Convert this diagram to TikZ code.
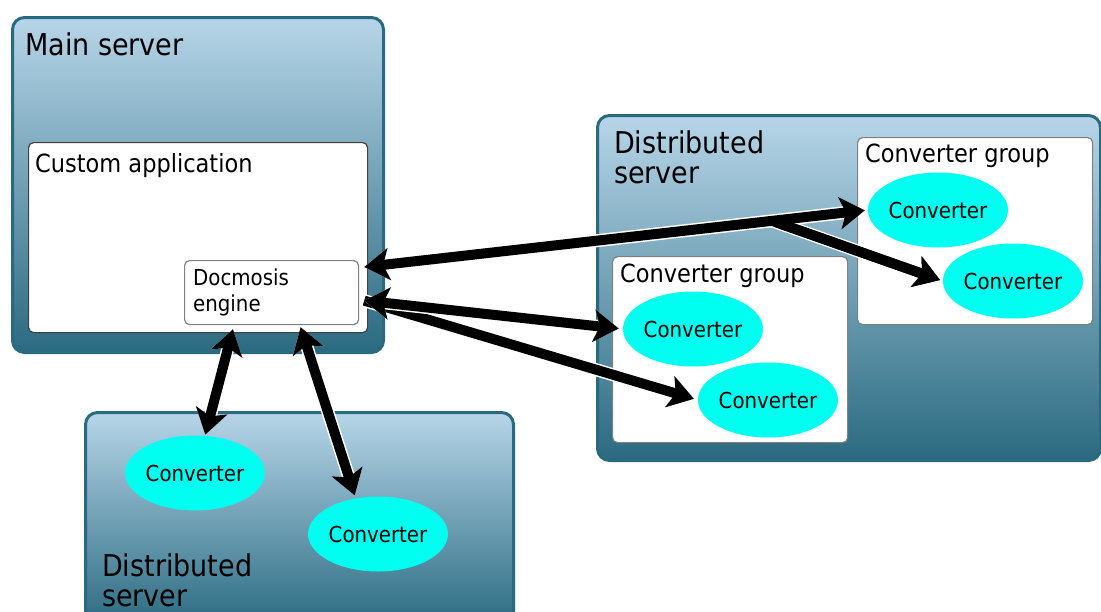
\documentclass[tikz,border=0pt]{standalone}
\usepackage{fontspec}
\setmainfont{DejaVu Sans Condensed}
\usetikzlibrary{arrows.meta,calc,shapes.geometric}
\definecolor{tealdark}{HTML}{2A6A80}
\definecolor{teallight}{HTML}{B7D5E8}
\definecolor{convcyan}{HTML}{00FFF0}

\begin{document}
\begin{tikzpicture}[x=1pt,y=-1pt,
  >={Stealth[length=25pt,width=32pt,inset=6pt]},
  server/.style={draw=tealdark,line width=3pt,rounded corners=12pt,top color=teallight,bottom color=tealdark,anchor=north west,inner sep=0pt},
  inbox/.style={draw=black!50,line width=1.2pt,fill=white,rounded corners=5pt,anchor=north west,inner sep=0pt},
  convnode/.style={ellipse,fill=convcyan,minimum width=140pt,minimum height=75pt,inner sep=0pt,font=\fontsize{22}{24}\selectfont},
  servertext/.style={anchor=north west,inner sep=0pt,align=left,font=\fontsize{30}{30}\selectfont},
  boxtext/.style={anchor=base west,inner sep=0pt,font=\fontsize{25}{27}\selectfont},
  link/.style={line width=10pt,preaction={draw=white,line width=13pt}}]

\useasboundingbox (0,0) rectangle (1101,611) ;
\clip (0,0) rectangle (1101,611) ;

\node[server,minimum width=371pt,minimum height=335pt] (main) at (11,16) {} ;
\node[servertext] (maintext) at (25,33) {Main server} ;
\node[inbox,draw=black!75,minimum width=339pt,minimum height=190pt] (app) at (28,142) {} ;
\node[boxtext] (apptext) at (35,172) {Custom application} ;
\node[inbox,minimum width=174pt,minimum height=64pt] (dme) at (184,260) {} ;
\node[anchor=north west,inner sep=0pt,align=left,font=\fontsize{22}{26}\selectfont] (dmetext) at (193,269) {Docmosis\\engine} ;

\node[server,minimum width=503pt,minimum height=345pt] (right) at (596,114) {} ;
\node[servertext] (righttext) at (614,131) {Distributed\\server} ;
\node[inbox,minimum width=235pt,minimum height=187pt] (groupa) at (857,137) {} ;
\node[boxtext] (groupatext) at (865,162) {Converter group} ;
\node[inbox,minimum width=235pt,minimum height=186pt] (groupb) at (612,256) {} ;
\node[boxtext] (groupbtext) at (620,282) {Converter group} ;

\node[server,minimum width=428pt,minimum height=215pt] (bottom) at (84,411) {} ;
\node[servertext] (bottomtext) at (102,553) {Distributed\\server} ;

\node[convnode] (c1a) at (938,210) {Converter} ;
\node[convnode] (c1b) at (1013,281) {Converter} ;
\node[convnode] (c2a) at (693,329) {Converter} ;
\node[convnode] (c2b) at (768,400) {Converter} ;
\node[convnode] (d1) at (195,473) {Converter} ;
\node[convnode] (d2) at (378,534) {Converter} ;

\coordinate (dmeA) at ($(dme.north east)+(5,7)$) ;
\coordinate (dmeB) at ($(dme.east)+(5,8)$) ;
\coordinate (split) at ($(dmeA)!0.81!(c1a.west)$) ;

\draw[link,->,shorten >=3pt] (split) -- (c1b.west) ;
\draw[link,<->,shorten >=3pt] (dmeA) -- (c1a.west) ;
\draw[line width=10pt,->,shorten >=3pt] (split) -- (c1b.west) ;

\draw[link,->,shorten >=4pt] (dmeB) -- (c2b.west) ;
\draw[link,<->,shorten >=4pt] (dmeB) -- (c2a.west) ;

\draw[link,<->,shorten >=1pt] ($(dme.south west)+(49,4)$) -- (d1.75) ;
\draw[link,<->,shorten >=3pt] ($(dme.south)+(29,2)$) -- (d2.122) ;
\end{tikzpicture}
\end{document}
